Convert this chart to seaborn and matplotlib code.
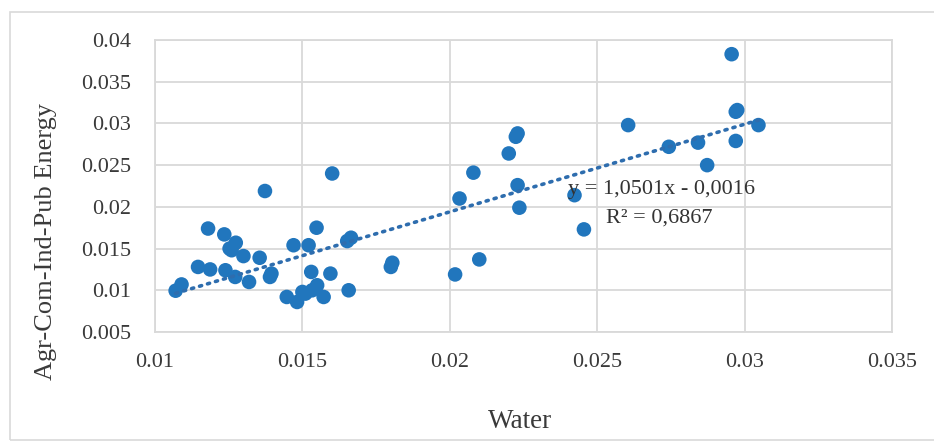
import numpy as np
import pandas as pd
import matplotlib
matplotlib.use("Agg")
import matplotlib.pyplot as plt
import seaborn as sns
from matplotlib.patches import Rectangle

water = [0.0107, 0.0109, 0.0118, 0.01235, 0.01274, 0.01253, 0.0130, 0.01355,
         0.01373, 0.01395, 0.0139, 0.01146, 0.01187, 0.01239, 0.01272, 0.01319,
         0.01447, 0.01482, 0.0151, 0.01533, 0.0155, 0.01572, 0.01657, 0.0153,
         0.01595, 0.0147, 0.01521, 0.01548, 0.01601, 0.01652, 0.01665, 0.01805,
         0.0180, 0.02018, 0.0210, 0.02033, 0.0208, 0.0220, 0.02224, 0.0223,
         0.0223, 0.02236, 0.02423, 0.02455, 0.02605, 0.02743, 0.02842, 0.02873,
         0.02956, 0.02975, 0.0297, 0.0297, 0.03047, 0.0150, 0.0126]
energy = [0.00995, 0.0107, 0.0174, 0.0167, 0.0157, 0.0150, 0.0141, 0.0139,
          0.0219, 0.0120, 0.0116, 0.0128, 0.0125, 0.0124, 0.0116, 0.0110,
          0.0092, 0.0086, 0.0096, 0.0100, 0.0106, 0.0092, 0.0100, 0.0122,
          0.0120, 0.0154, 0.0154, 0.0175, 0.0240, 0.0159, 0.0163, 0.0133,
          0.0128, 0.0119, 0.0137, 0.0210, 0.0241, 0.0264, 0.0284, 0.0288,
          0.0226, 0.0199, 0.0214, 0.0173, 0.0298, 0.0272, 0.0277, 0.0250,
          0.0383, 0.0316, 0.0314, 0.0279, 0.0298, 0.0098, 0.0148]

slope = 1.0501
intercept = -0.0016
r2_text = "R² = 0,6867"
eq_text = "y = 1,0501x - 0,0016"

x_ticks = [0.01, 0.015, 0.02, 0.025, 0.03, 0.035]
x_tick_labels = ["0.01", "0.015", "0.02", "0.025", "0.03", "0.035"]
y_ticks = [0.005, 0.01, 0.015, 0.02, 0.025, 0.03, 0.035, 0.04]
y_tick_labels = ["0.005", "0.01", "0.015", "0.02", "0.025", "0.03", "0.035", "0.04"]

df = pd.DataFrame({"Water": water, "Energy": energy})

sns.set_style("white")
plt.rcParams["font.family"] = ["Liberation Serif", "DejaVu Serif"]

W, H = 934, 443
fig = plt.figure(figsize=(W / 100, H / 100), dpi=100)
fig.patches.append(Rectangle((10 / W, 1 - 440 / H), 1.0, (440 - 12) / H,
                             transform=fig.transFigure, fill=False,
                             edgecolor="#d9d9d9", linewidth=1.2))
ax = fig.add_axes([155 / W, 1 - 332 / H, (892 - 155) / W, (332 - 40) / H])

dot_color = "#2176BD"
sns.scatterplot(data=df, x="Water", y="Energy", ax=ax, s=110, color=dot_color,
                edgecolor="none", linewidth=0, zorder=3)

xs = np.array([min(water), max(water)])
ax.plot(xs, slope * xs + intercept, color="#2E6DAE", linewidth=2.6,
        linestyle=(0, (0.6, 1.7)), dash_capstyle="round", zorder=4)

ax.set_xlim(0.01, 0.035)
ax.set_ylim(0.005, 0.04)
ax.set_xticks(x_ticks)
ax.set_xticklabels(x_tick_labels)
ax.set_yticks(y_ticks)
ax.set_yticklabels(y_tick_labels)
ax.grid(True, color="#d9d9d9", linewidth=1.3)
ax.set_axisbelow(True)
for sp in ax.spines.values():
    sp.set_color("#d9d9d9")
    sp.set_linewidth(1.3)
ax.tick_params(axis="both", length=0, labelsize=16, colors="#3a3a3a")
ax.tick_params(axis="y", pad=17)
ax.tick_params(axis="x", pad=15)
ax.set_xlabel("")
ax.set_ylabel("")

fig.text(520 / W, 1 - 422 / H, "Water", fontsize=19.5, color="#3a3a3a",
         ha="center", va="center")
fig.text(46 / W, 1 - 241 / H, "Agr-Com-Ind-Pub Energy", fontsize=19, color="#3a3a3a",
         ha="center", va="center", rotation=90)

ax.text(0.02401, 0.02203, eq_text, fontsize=16, color="#333333", ha="left", va="center", zorder=5)
ax.text(0.02531, 0.01867, r2_text, fontsize=16, color="#333333", ha="left", va="center", zorder=5)

fig.savefig("out.png", dpi=100)
